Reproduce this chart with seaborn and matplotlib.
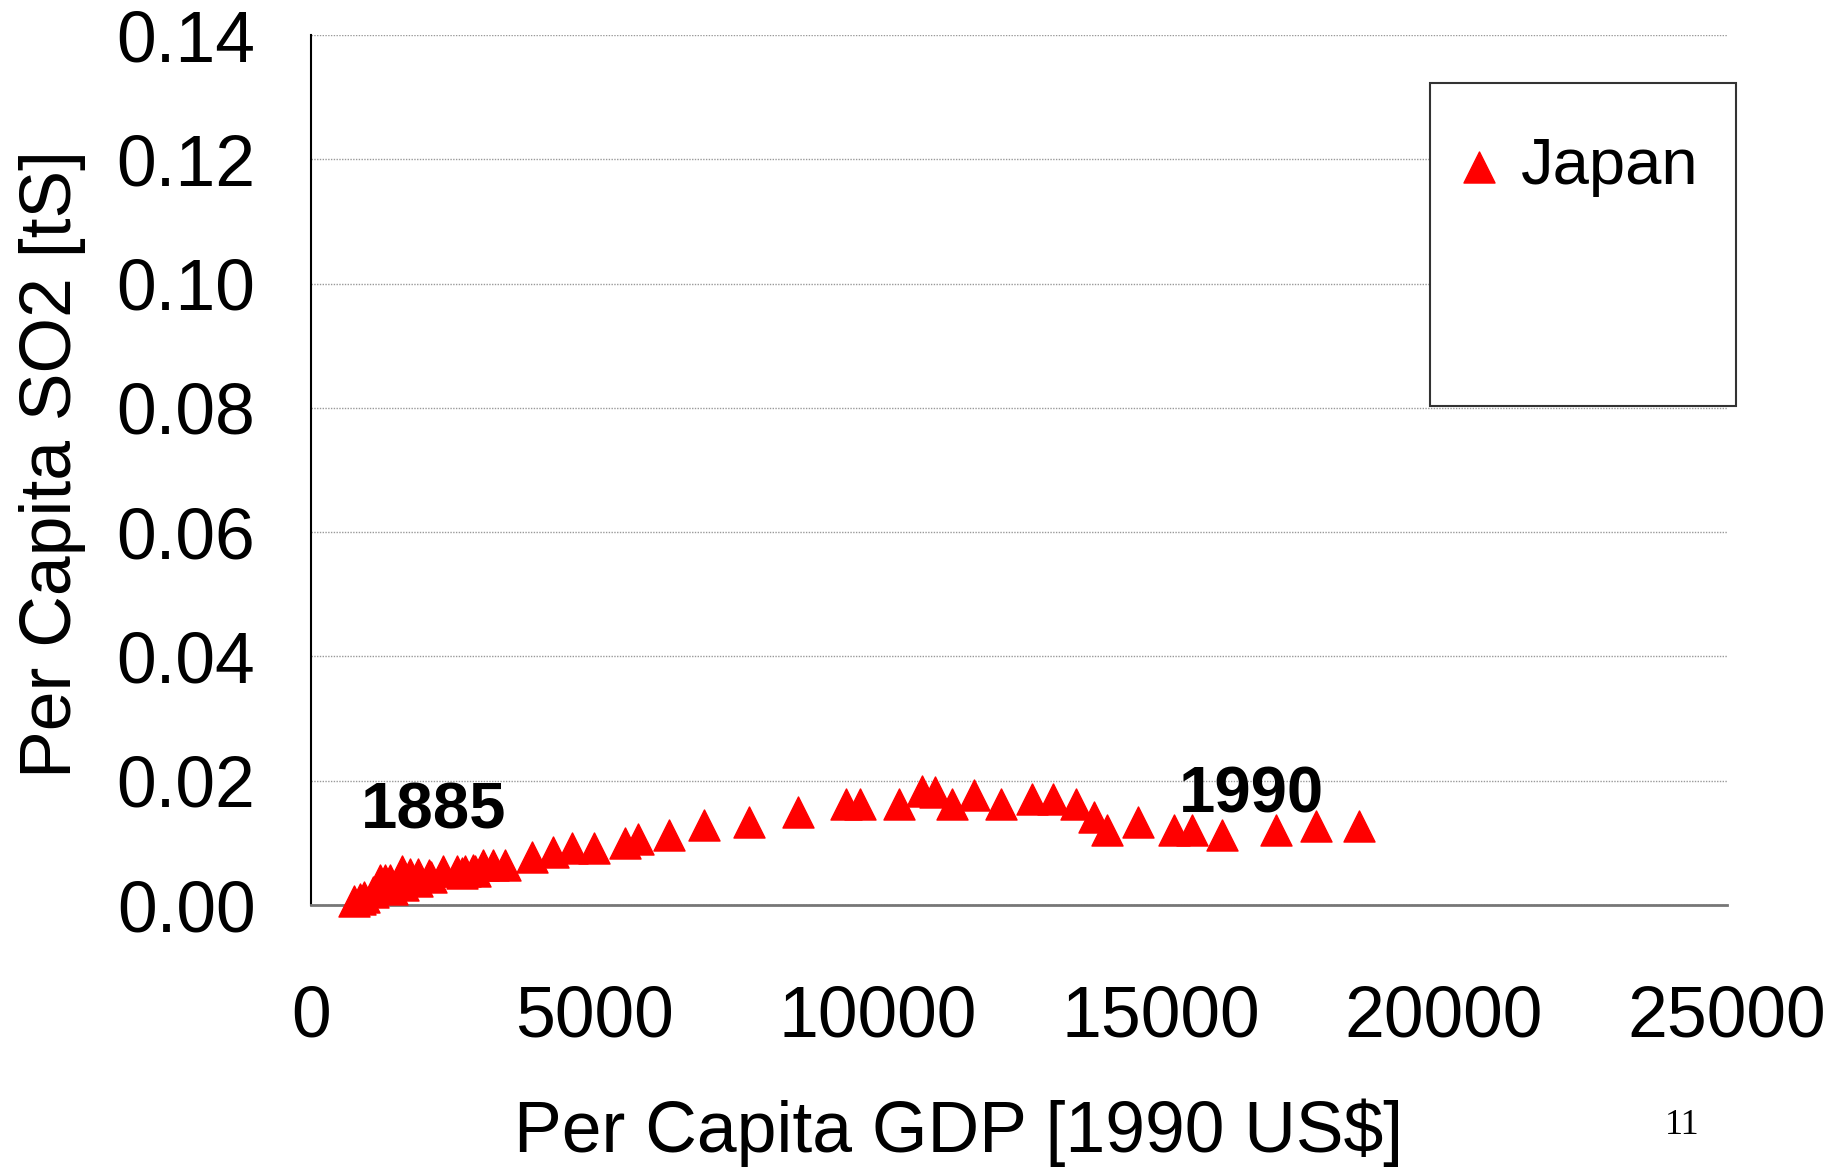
import numpy as np
import pandas as pd
import matplotlib
matplotlib.use('Agg')
import matplotlib.pyplot as plt
from matplotlib.patches import Rectangle
import seaborn as sns

# Japan, per capita GDP vs per capita SO2
gdp = [760, 860, 940, 1100, 1218, 1306, 1395, 1424, 1601, 1630, 1748, 1866,
       1894, 2080, 2110, 2336, 2572, 2660, 2719, 2866, 2895, 3042, 3219, 3425,
       3900, 4280, 4600, 4990, 5540, 5770, 6320, 6944, 7733, 8593, 9440, 9693,
       10387, 10782, 11017, 11323, 11711, 12182, 12724, 13106, 13501, 13830,
       14048, 14606, 15237, 15549, 16090, 17032, 17738, 18508]
so2 = [0.0007, 0.0010, 0.0013, 0.0021, 0.0041, 0.0041, 0.0041, 0.0025, 0.0055,
       0.0032, 0.0050, 0.0039, 0.0050, 0.0048, 0.0045, 0.0055, 0.0055, 0.0051,
       0.0055, 0.0057, 0.0055, 0.0064, 0.0064, 0.0064, 0.0078, 0.0085, 0.0091,
       0.0091, 0.0099, 0.0106, 0.0113, 0.0128, 0.0134, 0.0149, 0.0163, 0.0163,
       0.0163, 0.0184, 0.0182, 0.0163, 0.0177, 0.0163, 0.0171, 0.0171, 0.0163,
       0.0141, 0.0120, 0.0134, 0.0120, 0.0120, 0.0113, 0.0120, 0.0127, 0.0127]
year_labels = ['1885', '1990']
year_pos = [(2172, 0.0150), (16596, 0.0176)]
xticks = [0, 5000, 10000, 15000, 20000, 25000]
yticks = [0.00, 0.02, 0.04, 0.06, 0.08, 0.10, 0.12, 0.14]

df = pd.DataFrame({'gdp': gdp, 'so2': so2})

sns.set_theme(style='white')
plt.rcParams['font.family'] = ['Liberation Sans', 'DejaVu Sans']
plt.rcParams['text.color'] = 'black'
plt.rcParams['axes.labelcolor'] = 'black'
plt.rcParams['xtick.color'] = 'black'
plt.rcParams['ytick.color'] = 'black'

fig = plt.figure(figsize=(18.34, 11.67), dpi=100)
ax = fig.add_axes([0.1696, 0.2245, 0.7721, 0.7455])

sns.scatterplot(data=df, x='gdp', y='so2', marker='^', color='#ff0000',
                s=500, linewidth=1, edgecolor='#ff0000', label='Japan', ax=ax,
                clip_on=False, zorder=3)

ax.set_xlim(0, 25000)
ax.set_ylim(0, 0.14)
ax.set_xticks(xticks)
ax.set_yticks(yticks)
ax.set_xticklabels([str(t) for t in xticks])
ax.set_yticklabels(['%.2f' % t for t in yticks])
ax.tick_params(axis='both', direction='in', labelsize=51.5, width=1.5,
               length=16, color='#222222', labelcolor='black')
ax.tick_params(axis='y', pad=40)
ax.tick_params(axis='x', pad=57)

ax.grid(axis='y', color='#999999', linewidth=1, linestyle=(0, (1, 1)))
ax.grid(axis='x', visible=False)
for s in ['top', 'right']:
    ax.spines[s].set_visible(False)
ax.spines['left'].set_color('black')
ax.spines['left'].set_linewidth(1.5)
ax.spines['bottom'].set_color('#777777')
ax.spines['bottom'].set_linewidth(2)

ax.set_xlabel('Per Capita GDP [1990 US$]', fontsize=51.5)
ax.set_ylabel('Per Capita SO2 [tS]', fontsize=51.5)
ax.xaxis.set_label_coords(0.4576, -0.222)
ax.yaxis.set_label_coords(-0.159, 0.507)

for lab, (xx, yy) in zip(year_labels, year_pos):
    ax.text(xx, yy, lab, fontsize=47, fontweight='bold', ha='center',
            va='center', zorder=4, color='black')

# legend box, much taller than its content
box = Rectangle((0.7797, 0.6521), 0.1669, 0.2768, transform=fig.transFigure,
                facecolor='white', edgecolor='#333333', linewidth=1.5,
                zorder=4, clip_on=False)
ax.add_patch(box)
leg = ax.legend(loc='upper left', bbox_to_anchor=(1459 / 1834, 1 - 137 / 1167),
                bbox_transform=fig.transFigure, frameon=False, fontsize=47,
                handlelength=0.6, handletextpad=0.35, borderpad=0,
                borderaxespad=0)
leg.set_zorder(5)

fig.text(1682 / 1834, 1 - 1126 / 1167, '11', fontsize=26, ha='center',
         va='center', family=['Liberation Serif', 'DejaVu Serif'])

fig.savefig('out.png', dpi=100)
